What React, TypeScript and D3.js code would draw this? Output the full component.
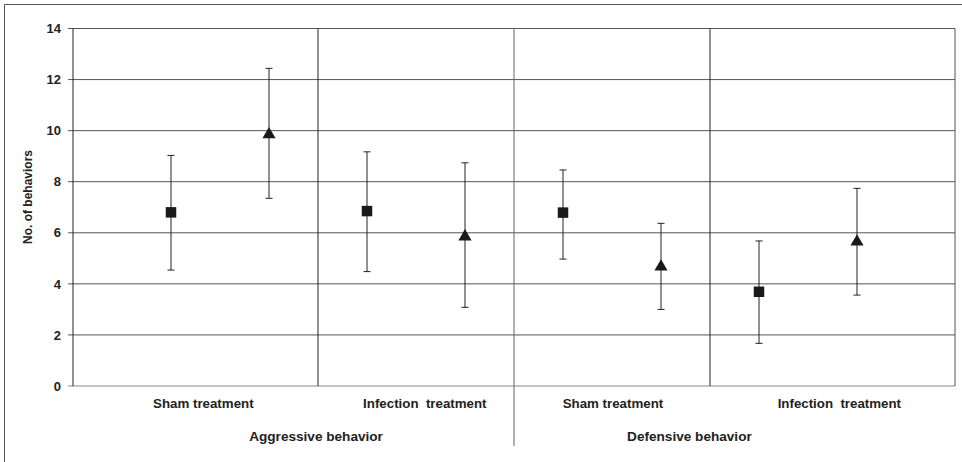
import React from "react";
import { scaleLinear, symbol, symbolSquare, symbolTriangle } from "d3";

// values
const treatments = ["Sham treatment", "Infection  treatment", "Sham treatment", "Infection  treatment"];
const behaviors = ["Aggressive behavior", "Defensive behavior"];
const means = [6.8, 9.85, 6.85, 5.85, 6.79, 4.67, 3.69, 5.65];
const upper = [9.03, 12.44, 9.17, 8.74, 8.46, 6.37, 5.68, 7.74];
const lower = [4.54, 7.35, 4.48, 3.08, 4.97, 3.0, 1.67, 3.56];
const markers = ["square", "triangle", "square", "triangle", "square", "triangle", "square", "triangle"];
const yTicks = [0, 2, 4, 6, 8, 10, 12, 14];

// layout (x in category units)
const treatmentLabelX = [1.33, 3.59, 5.51, 7.82];
const behaviorLabelX = [2.48, 6.29];
const dividers = [2.5, 4.5, 6.5];

const W = 962;
const H = 462;
const left = 73, right = 955, top = 28.5, bottom = 386;
const font = "'Liberation Sans', Arial, sans-serif";
const ink = "#222";
const grid = "#555";

export default function App() {
  const x = scaleLinear().domain([0, 9]).range([left, right]);
  const y = scaleLinear().domain([0, 14]).range([bottom, top]);
  const sq = symbol().type(symbolSquare).size(110)();
  const tri = symbol().type(symbolTriangle).size(75)();

  return (
    <svg width={W} height={H} style={{ position: "absolute", left: 0, top: 0 }}>
      <rect x={0} y={0} width={W} height={H} fill="#fff" />
      {/* outer frame */}
      <path d={`M4.5,${H} V4.5 H${W}`} fill="none" stroke={grid} strokeWidth={1} />

      {/* gridlines + ticks */}
      {yTicks.map((t) => (
        <g key={t}>
          <line x1={left - 5} x2={right} y1={y(t)} y2={y(t)} stroke={t === 0 ? "#888" : grid} strokeWidth={1} />
          <text x={61} y={y(t)} dy="0.36em" textAnchor="end" fontFamily={font} fontWeight="bold" fontSize={13} fill={ink}>
            {t}
          </text>
        </g>
      ))}
      <line x1={left} x2={left} y1={top} y2={bottom} stroke={ink} />
      <line x1={right} x2={right} y1={top} y2={bottom} stroke={grid} />

      {dividers.map((d, i) => (
        <line key={i} x1={x(d)} x2={x(d)} y1={top} y2={i === 1 ? 446 : bottom} stroke={i === 1 ? "#666" : ink} />
      ))}

      {/* error bars */}
      {means.map((m, i) => {
        const cx = x(i + 1);
        return (
          <g key={i}>
            <line x1={cx} x2={cx} y1={y(upper[i])} y2={y(lower[i])} stroke={ink} />
            <line x1={cx - 3.5} x2={cx + 3.5} y1={y(upper[i])} y2={y(upper[i])} stroke={ink} />
            <line x1={cx - 3.5} x2={cx + 3.5} y1={y(lower[i])} y2={y(lower[i])} stroke={ink} />
            <path
              d={markers[i] === "square" ? sq : tri}
              transform={`translate(${cx},${y(m)})`}
              fill="#1a1a1a"
            />
          </g>
        );
      })}

      {/* category labels */}
      {treatments.map((t, i) => (
        <text key={i} x={x(treatmentLabelX[i])} y={408} textAnchor="middle" fontFamily={font} fontWeight="bold" fontSize={13.3} fill={ink} style={{ whiteSpace: "pre" }}>
          {t}
        </text>
      ))}
      {behaviors.map((b, i) => (
        <text key={i} x={x(behaviorLabelX[i])} y={441} textAnchor="middle" fontFamily={font} fontWeight="bold" fontSize={13.6} fill={ink}>
          {b}
        </text>
      ))}

      <text
        transform={`translate(32,${197}) rotate(-90)`}
        textAnchor="middle"
        fontFamily={font}
        fontWeight="bold"
        fontSize={12}
        fill={ink}
      >
        No. of behaviors
      </text>
    </svg>
  );
}
